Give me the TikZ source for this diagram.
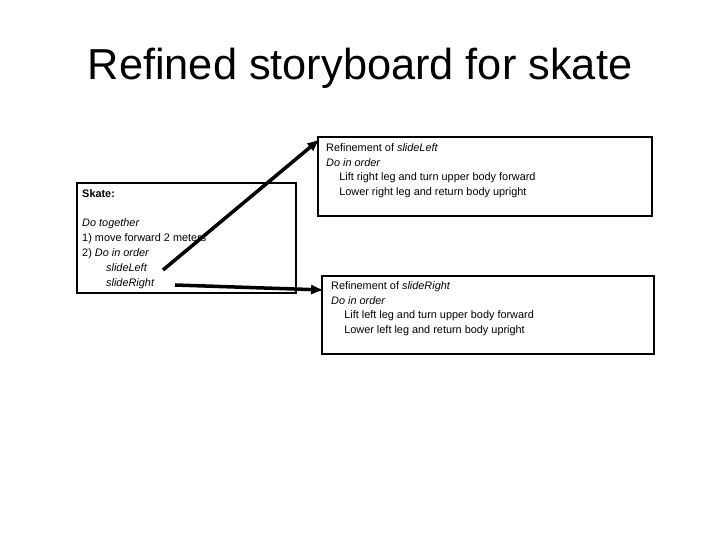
\documentclass[tikz,border=0pt]{standalone}
\usepackage{fontspec}
\setmainfont{Liberation Sans}
\usetikzlibrary{arrows.meta}
\tikzset{
  panel/.style={draw, line width=1.9pt},
  txt/.style={anchor=north west, align=left, inner sep=0pt, font=\fontsize{9.3}{12.7}\selectfont},
  link/.style={line width=3pt, -{Latex[length=11pt,width=9pt]}}
}
\begin{document}
\begin{tikzpicture}[x=0.03cm, y=-0.03cm]
\useasboundingbox (0,0) rectangle (720,540);
\node[font=\fontsize{37}{44}\selectfont] (title) at (360,68) {Refined storyboard for skate};
% main box
\draw[panel] (77,183) rectangle (296,293);
\node[txt] (skate) at (82,189) {\textbf{Skate:}\\[12.7pt]
\textit{Do together}\\
1) move forward 2 meters\\
2) \textit{Do in order}\\
\hspace{2.2em}\textit{slideLeft}\\
\hspace{2.2em}\textit{slideRight}};
% refinements
\draw[panel] (318,137) rectangle (652,216);
\node[txt] (left) at (326,143) {Refinement of \textit{slideLeft}\\
\textit{Do in order}\\
\hspace{1.2em}Lift right leg and turn upper body forward\\
\hspace{1.2em}Lower right leg and return body upright};
\draw[panel] (322,276) rectangle (654,354);
\node[txt] (right) at (331,281) {Refinement of \textit{slideRight}\\
\textit{Do in order}\\
\hspace{1.2em}Lift left leg and turn upper body forward\\
\hspace{1.2em}Lower left leg and return body upright};
% links
\coordinate (fromL) at (163,270);
\coordinate (toL) at (320,139);
\coordinate (fromR) at (175,285);
\coordinate (toR) at (324,290);
\draw[link] (fromL) -- (toL);
\draw[link] (fromR) -- (toR);
\end{tikzpicture}
\end{document}
